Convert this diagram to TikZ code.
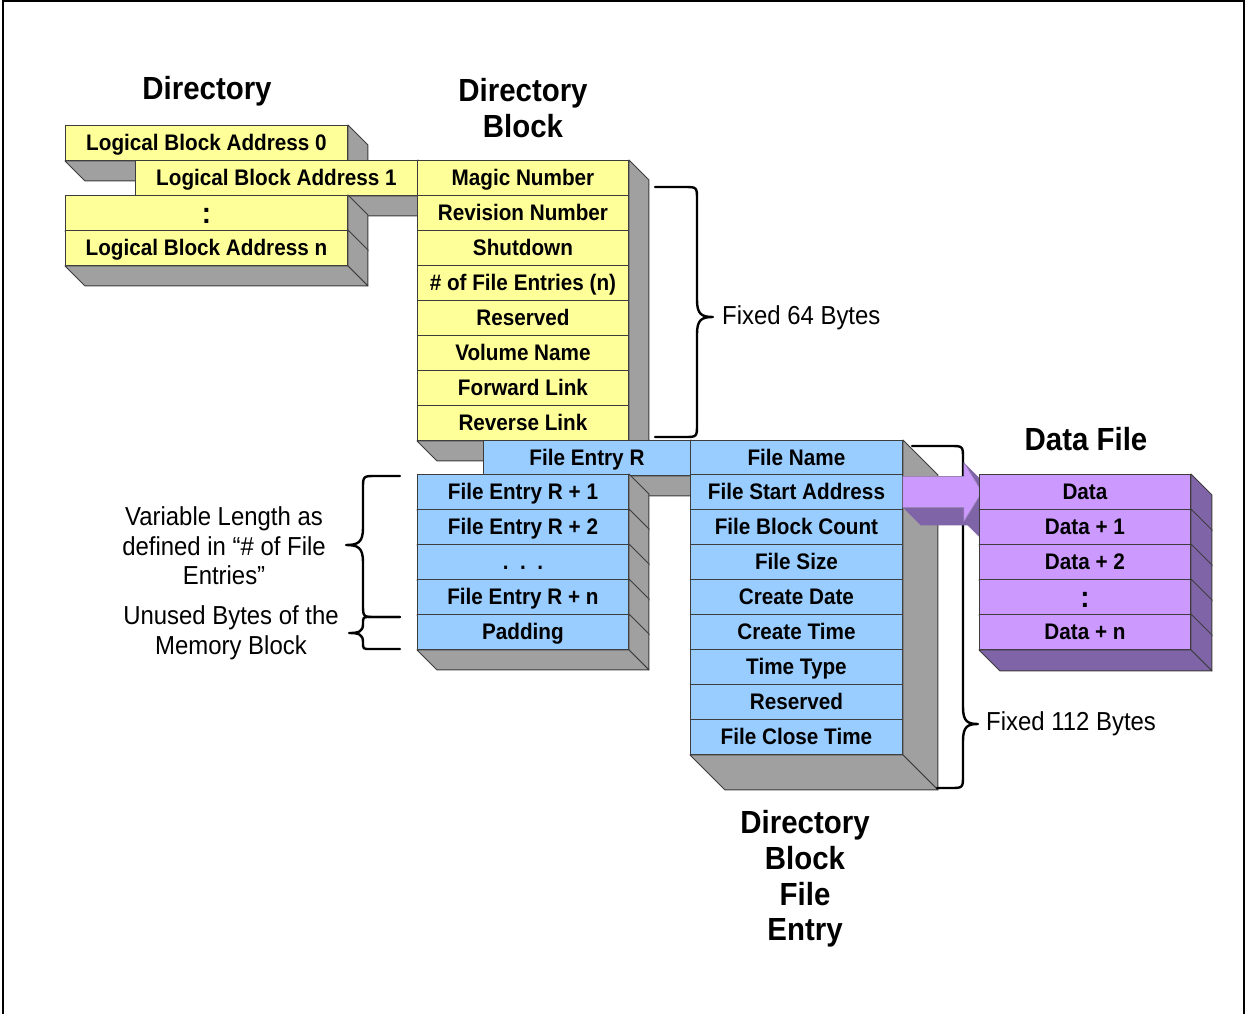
\documentclass[tikz,border=0pt]{standalone}
\usepackage{fontspec}
\setmainfont[FakeStretch=0.92]{Liberation Sans}
\usetikzlibrary{calc}

\definecolor{yel}{HTML}{FFFF99}
\definecolor{blu}{HTML}{99CCFF}
\definecolor{vio}{HTML}{CC99FF}
\definecolor{vioface}{RGB}{128,100,168}
\definecolor{sidegray}{RGB}{160,160,160}
\definecolor{rule}{RGB}{60,60,60}

\tikzset{
  cell/.style={draw=rule, line width=0.9pt, anchor=north west, inner sep=0pt,
    minimum height=35pt, text height=16pt, text depth=0pt,
    font=\fontsize{22.5}{26}\selectfont\bfseries},
  face/.style={draw=rule, line width=0.9pt, fill=sidegray, line join=round},
  vface/.style={face, fill=vioface},
  heading/.style={font=\fontsize{32}{35.7}\selectfont\bfseries, align=center, inner sep=0pt},
  note/.style={font=\fontsize{26}{29.5}\selectfont, align=center, inner sep=0pt},
  bracepen/.style={line width=2.4pt, line cap=round, line join=round},
}

% right and bottom faces of an extruded slab spanning nodes #1 (top) to #2 (bottom)
\newcommand\drawslab[4]{%
  \path[#4] (#1.north east) -- ($(#1.north east)+(#3,#3)$) -- ($(#2.south east)+(#3,#3)$) -- (#2.south east) -- cycle;
  \path[#4] (#2.south west) -- ($(#2.south west)+(#3,#3)$) -- ($(#2.south east)+(#3,#3)$) -- (#2.south east) -- cycle;
}

% curly brace: top end x, bottom end x, spine x, tip x, top y, tip y, bottom y, radius, side (+1 right, -1 left)
\newcommand\curlybrace[9]{%
  \draw[bracepen] (#1,#5) -- ({#3-(#9)*#8},#5) .. controls (#3,#5) .. (#3,{#5+#8})
    -- (#3,{#6-1.3*#8}) .. controls (#3,{#6-0.2*#8}) and ({#3+0.3*(#4-#3)},#6) .. (#4,#6)
    .. controls ({#3+0.3*(#4-#3)},#6) and (#3,{#6+0.2*#8}) .. (#3,{#6+1.3*#8})
    -- (#3,{#7-#8}) .. controls (#3,#7) .. ({#3-(#9)*#8},#7) -- (#2,#7);
}

\begin{document}
\begin{tikzpicture}[x=1pt,y=-1pt]
\useasboundingbox (0,0) rectangle (1247,1014);
\draw[line width=2.5pt] (3,1014) -- (3,1.25) -- (1244,1.25) -- (1244,1014);

% ---- Directory: logical block addresses
\node[cell, fill=yel, minimum width=282] (lba0) at (65,125) {Logical Block Address 0};
\drawslab{lba0}{lba0}{20}{face}
\node[cell, fill=yel, minimum width=282] (lba1) at (135,160) {Logical Block Address 1};
\drawslab{lba1}{lba1}{20}{face}
\node[cell, fill=yel, minimum width=282] (lbadots) at (65,195) {\fontsize{30}{30}\selectfont\raisebox{-2.5pt}{:}};
\drawslab{lbadots}{lbadots}{20}{face}
\node[cell, fill=yel, minimum width=282] (lban) at (65,230) {Logical Block Address n};
\drawslab{lban}{lban}{20}{face}

% ---- Directory block header fields
\node[cell, fill=yel, minimum width=211] (magic) at (417,160) {Magic Number};
\node[cell, fill=yel, minimum width=211] (rev) at (417,195) {Revision Number};
\node[cell, fill=yel, minimum width=211] (shut) at (417,230) {Shutdown};
\node[cell, fill=yel, minimum width=211] (nfe) at (417,265) {\# of File Entries (n)};
\node[cell, fill=yel, minimum width=211] (resv) at (417,300) {Reserved};
\node[cell, fill=yel, minimum width=211] (vol) at (417,335) {Volume Name};
\node[cell, fill=yel, minimum width=211] (fwd) at (417,370) {Forward Link};
\node[cell, fill=yel, minimum width=211] (revlink) at (417,405) {Reverse Link};
\drawslab{magic}{revlink}{20}{face}

% ---- File entries
\node[cell, fill=blu, minimum width=207] (fer) at (483,440) {File Entry R};
\drawslab{fer}{fer}{20}{face}
\node[cell, fill=blu, minimum width=211] (fe1) at (417,474) {File Entry R + 1};
\drawslab{fe1}{fe1}{20}{face}
\node[cell, fill=blu, minimum width=211] (fe2) at (417,509) {File Entry R + 2};
\drawslab{fe2}{fe2}{20}{face}
\node[cell, fill=blu, minimum width=211] (fedots) at (417,544) {.\ \ .\ \ .};
\drawslab{fedots}{fedots}{20}{face}
\node[cell, fill=blu, minimum width=211] (fen) at (417,579) {File Entry R + n};
\drawslab{fen}{fen}{20}{face}
\node[cell, fill=blu, minimum width=211] (pad) at (417,614) {Padding};
\drawslab{pad}{pad}{20}{face}

% ---- Directory block file entry fields
\node[cell, fill=blu, minimum width=212] (fname) at (690,440) {File Name};
\node[cell, fill=blu, minimum width=212] (fsa) at (690,474) {File Start Address};
\node[cell, fill=blu, minimum width=212] (fbc) at (690,509) {File Block Count};
\node[cell, fill=blu, minimum width=212] (fsize) at (690,544) {File Size};
\node[cell, fill=blu, minimum width=212] (cdate) at (690,579) {Create Date};
\node[cell, fill=blu, minimum width=212] (ctime) at (690,614) {Create Time};
\node[cell, fill=blu, minimum width=212] (ttype) at (690,649) {Time Type};
\node[cell, fill=blu, minimum width=212] (fres) at (690,684) {Reserved};
\node[cell, fill=blu, minimum width=212] (fclose) at (690,719) {File Close Time};
\drawslab{fname}{fclose}{35}{face}

% ---- braces
\curlybrace{655}{655}{697}{713}{187}{317}{437}{13}{1}
\curlybrace{912}{937}{963}{978}{446}{724}{788}{13}{1}
\curlybrace{400}{400}{363}{346}{476}{545}{617}{13}{-1}
\curlybrace{400}{400}{363}{349}{617}{633}{649}{7}{-1}

% ---- block arrow from the start address to the data
\begin{scope}[shift={(fsa.east)}]
  \fill[vioface] (0,15.5) -- (61,15.5) -- (79,33.5) -- (18,33.5) -- cycle;
  \fill[vioface] (61,-29.5) -- (79,0) -- (97,18) -- (79,-11.5) -- cycle;
  \fill[vioface] (79,0) -- (61,29.5) -- (79,47.5) -- (97,18) -- cycle;
  \path[fill=vio, draw=vioface!80, line width=0.6pt, line join=round]
    (0,-15.5) -- (61,-15.5) -- (61,-29.5) -- (79,0) -- (61,29.5) -- (61,15.5) -- (0,15.5) -- cycle;
\end{scope}

% ---- data file
\node[cell, fill=vio, minimum width=211] (d0) at (979,474) {Data};
\drawslab{d0}{d0}{21}{vface}
\node[cell, fill=vio, minimum width=211] (d1) at (979,509) {Data + 1};
\drawslab{d1}{d1}{21}{vface}
\node[cell, fill=vio, minimum width=211] (d2) at (979,544) {Data + 2};
\drawslab{d2}{d2}{21}{vface}
\node[cell, fill=vio, minimum width=211] (ddots) at (979,579) {\fontsize{30}{30}\selectfont\raisebox{-2.5pt}{:}};
\drawslab{ddots}{ddots}{21}{vface}
\node[cell, fill=vio, minimum width=211] (dn) at (979,614) {Data + n};
\drawslab{dn}{dn}{21}{vface}

% ---- headings and notes
\node[heading] (hdir) at (207,91) {Directory};
\node[heading] (hblock) at (523,108) {Directory\\Block};
\node[heading] (hdata) at (1086,439) {Data File};
\node[heading] (hentry) at (805,879) {Directory\\Block\\File\\Entry};

\node[note, anchor=west] (fixed64) at (722,318) {Fixed 64 Bytes};
\node[note, anchor=west] (fixed112) at (986,724) {Fixed 112 Bytes};
\node[note] (varlen) at (224,546) {Variable Length as\\defined in “\# of File\\Entries”};
\node[note] (unused) at (231,633) {Unused Bytes of the\\Memory Block};
\end{tikzpicture}
\end{document}
